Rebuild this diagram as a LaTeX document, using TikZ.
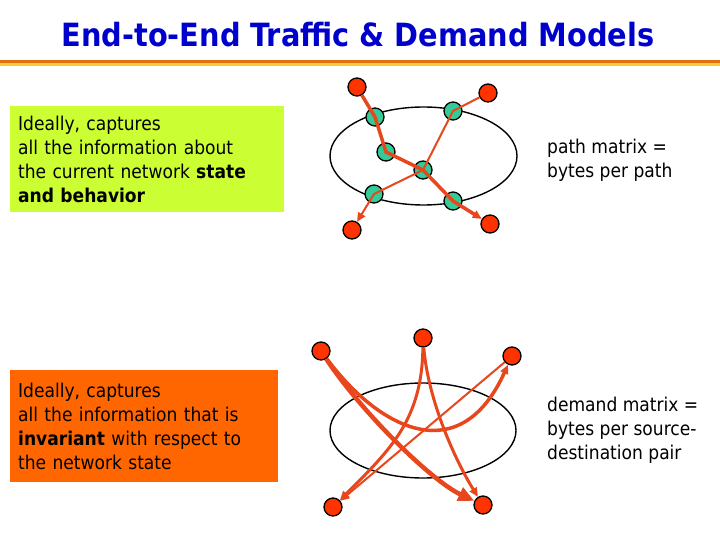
\documentclass[tikz,border=0pt]{standalone}
\usepackage{fontspec}
\setmainfont{DejaVu Sans Condensed}
\usetikzlibrary{arrows.meta,positioning}
\definecolor{tmBlue}{HTML}{0000CC}
\definecolor{tmRule}{HTML}{E07010}
\definecolor{tmGold}{HTML}{FFCC33}
\definecolor{tmLime}{HTML}{CCFF33}
\definecolor{tmOrange}{HTML}{FF6600}
\definecolor{tmRed}{HTML}{FF3300}
\definecolor{tmArrow}{HTML}{E8461C}
\definecolor{tmTeal}{HTML}{33CC99}
\tikzset{
  >={Triangle[length=9pt,width=8pt]},
  title/.style={font=\bfseries\fontsize{32}{36}\selectfont, text=tmBlue},
  infobox/.style={anchor=north west, align=left, inner xsep=8pt, inner ysep=0pt,
              font=\fontsize{19}{24}\selectfont},
  note/.style={anchor=west, align=left, inner sep=0pt,
              font=\fontsize{19}{24}\selectfont},
  src/.style={circle, draw=black, line width=1.3pt, fill=tmRed,
              minimum size=18pt, inner sep=0pt},
  hop/.style={circle, draw=black, line width=1.3pt, fill=tmTeal,
              minimum size=18pt, inner sep=0pt},
  net/.style={draw=black, line width=1.4pt},
  flow/.style={->, draw=tmArrow, line width=2pt},
  bigflow/.style={-{Triangle[length=16pt,width=14pt]}, draw=tmArrow, line width=4.5pt},
}
\begin{document}
\begin{tikzpicture}[x=1pt,y=-1pt]
    \useasboundingbox (0,0) rectangle (720,540);
    \node[title] (head) at (358,35) {End-to-End Traffic \& Demand Models};
    \fill[tmRule] (0,60) rectangle (720,63.5);
    \fill[tmGold] (0,63.5) rectangle (720,66);
    \node[infobox, fill=tmLime, text width=258pt, minimum height=106pt] (state) at (10,106)
      {Ideally, captures\\all the information about\\the current network \textbf{state}\\\textbf{and behavior}};
    \node[infobox, fill=tmOrange, text width=252pt, minimum height=112pt] (invar) at (10,370)
      {Ideally, captures\\all the information that is\\\textbf{invariant} with respect to\\the network state};
    \node[note] (pathm) at (547,160) {path matrix =\\bytes per path};
    \node[note] (demm) at (547,430) {demand matrix =\\bytes per source-\\destination pair};
    \draw[net] (423.5,156) ellipse [x radius=93.5, y radius=49];
    \draw[net] (423,430.5) ellipse [x radius=93, y radius=47.5];
    \foreach \n/\x/\y in {t1/375/117, t2/453/111, t3/386/152, t4/423/170, t5/374/194, t6/453/201}{
      \node[hop] (\n) at (\x,\y) {};
    }
    \foreach \n/\x/\y in {r1/357/87, r2/488/93, r3/352/230, r4/490/224,
                          d1/321/351, d2/423/338, d3/512/356, d4/333/507, d5/483/505}{
      \node[src] (\n) at (\x,\y) {};
    }
    \draw[flow, line width=3.5pt] (r1) -- (t1.center) -- (t3.center) -- (t4.center) -- (t6.center) -- (r4);
    \draw[flow] (r2) -- (t2.center) -- (t4.center) -- (t5.center) -- (r3);
    \draw[flow] (d3) -- (d4);
    \draw[flow, line width=3pt] (d2) .. controls (422,420) and (390,450) .. (d4);
    \draw[flow, line width=3pt] (d2) .. controls (428,400) and (455,460) .. (d5);
    \draw[flow, line width=3.5pt] (d1) .. controls (380,430) and (460,470) .. (d3);
    \draw[bigflow] (d1) .. controls (360,410) and (430,480) .. (d5);
  \end{tikzpicture}
\end{document}
